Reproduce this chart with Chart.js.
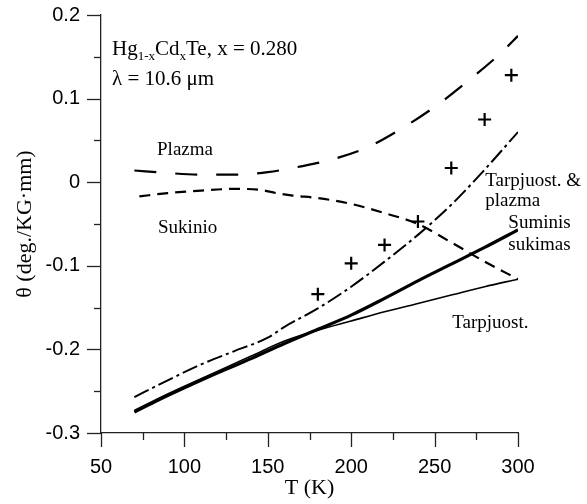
<!DOCTYPE html>
<html>
<head>
<meta charset="utf-8">
<script src="https://cdn.jsdelivr.net/npm/chart.js@4"></script>
<style>
  html, body { margin: 0; padding: 0; background: #fff; }
  canvas { display: block; }
</style>
</head>
<body>
<canvas id="chart" width="587" height="504"></canvas>
<script>
// T (K) and theta (deg./KG·mm)
const plazmaT = [70, 90, 110, 130, 150, 170, 190, 210, 230, 250, 270, 290, 300];
const plazmaY = [0.014, 0.011, 0.009, 0.009, 0.012, 0.019, 0.028, 0.042, 0.064, 0.090, 0.121, 0.155, 0.175];

const sukinioT = [73, 90, 110, 130, 145, 155, 165, 180, 200, 220, 240, 260, 280, 300];
const sukinioY = [-0.017, -0.013, -0.010, -0.008, -0.009, -0.013, -0.016, -0.019, -0.026, -0.037, -0.050, -0.072, -0.095, -0.116];

const tarpPlazT = [70, 90, 110, 130, 150, 160, 180, 200, 220, 240, 260, 280, 300];
const tarpPlazY = [-0.257, -0.237, -0.218, -0.202, -0.186, -0.173, -0.151, -0.125, -0.095, -0.063, -0.027, 0.015, 0.060];

const suminisT = [70, 85, 100, 120, 140, 160, 180, 200, 220, 240, 260, 280, 300];
const suminisY = [-0.275, -0.260, -0.246, -0.228, -0.211, -0.193, -0.176, -0.159, -0.139, -0.118, -0.098, -0.078, -0.057];

const tarpT = [70, 85, 100, 120, 140, 160, 180, 200, 220, 240, 260, 280, 300];
const tarpY = [-0.273, -0.258, -0.244, -0.226, -0.208, -0.190, -0.177, -0.166, -0.155, -0.145, -0.135, -0.125, -0.116];

const measT = [180, 200, 220, 240, 260, 280, 296];
const measY = [-0.134, -0.097, -0.075, -0.047, 0.017, 0.075, 0.128];

const xTicks = [50, 100, 150, 200, 250, 300];
const yTicks = [-0.3, -0.2, -0.1, 0, 0.1, 0.2];

const pts = (xs, ys) => xs.map((x, i) => ({ x: x, y: ys[i] }));

const SANS = '"Liberation Sans", Arial, sans-serif';
const SERIF = '"Liberation Serif", "Times New Roman", serif';

// labels in the plot, anchored in data coordinates (left edge, baseline)
const notes = [
  { t: 56.6, v: 0.152, parts: [['Hg'], ['1-x', 'sub'], ['Cd'], ['x', 'sub'], ['Te, x = 0.280']], size: 21 },
  { t: 56.6, v: 0.116, parts: [['λ = 10.6 μm']], size: 21 },
  { t: 83.6, v: 0.032, parts: [['Plazma']], size: 19 },
  { t: 84.2, v: -0.061, parts: [['Sukinio']], size: 19 },
  { t: 280.4, v: -0.004, parts: [['Tarpjuost. &']], size: 19 },
  { t: 280.4, v: -0.028, parts: [['plazma']], size: 19 },
  { t: 294.2, v: -0.055, parts: [['Suminis']], size: 19 },
  { t: 294.2, v: -0.081, parts: [['sukimas']], size: 19 },
  { t: 260.6, v: -0.174, parts: [['Tarpjuost.']], size: 19 }
];

const extras = {
  id: 'extras',
  afterDraw(chart) {
    const ctx = chart.ctx;
    const xs = chart.scales.x, ys = chart.scales.y;
    ctx.save();
    ctx.strokeStyle = '#222';
    ctx.lineWidth = 1.3;
    // tick marks, long on labelled values, short in between
    for (let t = 50; t <= 300; t += 25) {
      const px = Math.round(xs.getPixelForValue(t)) + 0.5;
      const len = t % 50 === 0 ? 14 : 7;
      ctx.beginPath();
      ctx.moveTo(px, ys.bottom);
      ctx.lineTo(px, ys.bottom + len);
      ctx.stroke();
    }
    for (let k = -6; k <= 4; k++) {
      const py = Math.round(ys.getPixelForValue(k * 0.05)) + 0.5;
      const len = k % 2 === 0 ? 14 : 7;
      ctx.beginPath();
      ctx.moveTo(xs.left, py);
      ctx.lineTo(xs.left - len, py);
      ctx.stroke();
    }
    // text notes
    ctx.fillStyle = '#000';
    ctx.textBaseline = 'alphabetic';
    ctx.textAlign = 'left';
    notes.forEach(n => {
      let x = xs.getPixelForValue(n.t);
      const y = ys.getPixelForValue(n.v);
      n.parts.forEach(([s, kind]) => {
        const sub = kind === 'sub';
        const size = sub ? Math.round(n.size * 0.62) : n.size;
        ctx.font = size + 'px ' + SERIF;
        ctx.fillText(s, x, sub ? y + 5 : y);
        x += ctx.measureText(s).width;
      });
    });
    ctx.restore();
  }
};

new Chart(document.getElementById('chart'), {
  type: 'line',
  data: {
    datasets: [
      { data: pts(plazmaT, plazmaY), borderColor: '#000', borderWidth: 2.2, borderDash: [22, 19], pointRadius: 0, cubicInterpolationMode: 'monotone' },
      { data: pts(sukinioT, sukinioY), borderColor: '#000', borderWidth: 2.2, borderDash: [11, 7], pointRadius: 0, cubicInterpolationMode: 'monotone' },
      { data: pts(tarpPlazT, tarpPlazY), borderColor: '#000', borderWidth: 2, borderDash: [16, 4, 3, 4], pointRadius: 0, cubicInterpolationMode: 'monotone' },
      { data: pts(suminisT, suminisY), borderColor: '#000', borderWidth: 3.2, pointRadius: 0, cubicInterpolationMode: 'monotone' },
      { data: pts(tarpT, tarpY), borderColor: '#000', borderWidth: 1.6, pointRadius: 0, cubicInterpolationMode: 'monotone' },
      { data: pts(measT, measY), showLine: false, pointStyle: 'cross', pointRadius: 6.5, pointBorderWidth: 2.2, borderColor: '#000', pointBorderColor: '#000' }
    ]
  },
  options: {
    responsive: false,
    animation: false,
    layout: { padding: { left: 0, right: 69, top: 15, bottom: 0 } },
    plugins: { legend: { display: false }, tooltip: { enabled: false } },
    scales: {
      x: {
        type: 'linear',
        min: 50, max: 300,
        afterFit: s => { s.height = 71; s.paddingLeft = 0; s.paddingRight = 0; },
        afterBuildTicks: s => { s.ticks = xTicks.map(v => ({ value: v })); },
        grid: { drawOnChartArea: false, drawTicks: false },
        border: { display: true, color: '#222', width: 1.3 },
        ticks: { color: '#000', padding: 22, maxRotation: 0, font: { family: SANS, size: 20 } },
        title: { display: true, text: 'T (K)', color: '#000', padding: { top: 0, bottom: 3 }, font: { family: SERIF, size: 22 } }
      },
      y: {
        type: 'linear',
        min: -0.3, max: 0.2,
        afterFit: s => { s.width = 101; s.paddingTop = 0; s.paddingBottom = 0; },
        afterBuildTicks: s => { s.ticks = yTicks.map(v => ({ value: v })); },
        grid: { drawOnChartArea: false, drawTicks: false },
        border: { display: true, color: '#222', width: 1.3 },
        ticks: { color: '#000', padding: 21, font: { family: SANS, size: 20 }, callback: v => (Math.abs(v) < 1e-9 ? '0' : String(Math.round(v * 10) / 10)) },
        title: { display: true, text: 'θ (deg./KG·mm)', color: '#000', padding: { top: 12, bottom: 0 }, font: { family: SERIF, size: 22 } }
      }
    }
  },
  plugins: [extras]
});
</script>
</body>
</html>
